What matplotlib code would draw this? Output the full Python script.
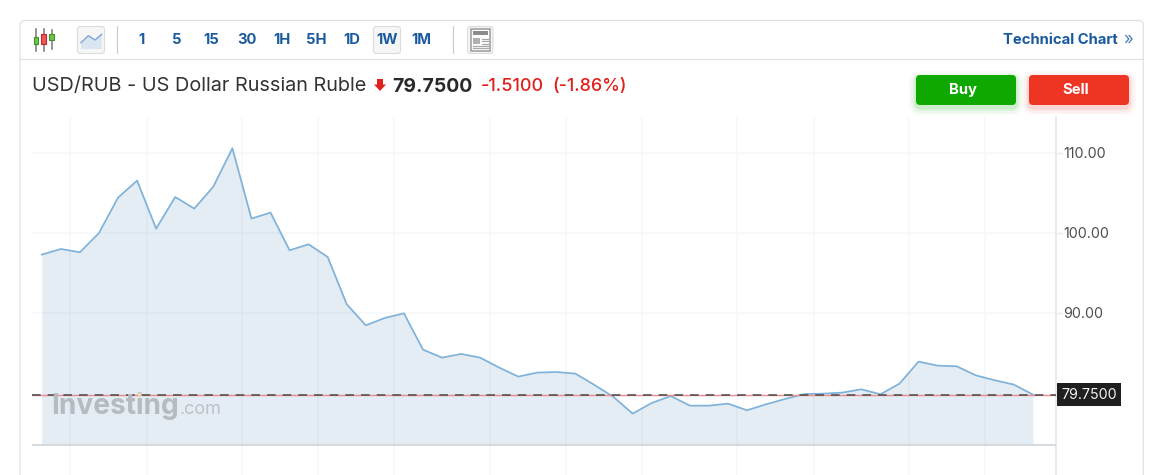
import matplotlib
matplotlib.use('Agg')
import matplotlib.pyplot as plt
from matplotlib.patches import FancyBboxPatch, Rectangle, Polygon

plt.rcParams['font.family'] = ['Inter', 'DejaVu Sans']

# weekly closes
closes = [97.25, 97.95, 97.54, 99.95, 104.37, 106.5, 100.5, 104.45, 103.0, 105.75,
          110.54, 101.75, 102.5, 97.79, 98.54, 96.95, 91.04, 88.41, 89.33, 89.91,
          85.37, 84.37, 84.83, 84.37, 83.12, 82.0, 82.5, 82.57, 82.37, 80.95,
          79.45, 77.37, 78.7, 79.57, 78.37, 78.37, 78.62, 77.79, 78.54, 79.2,
          79.82, 79.87, 80.0, 80.41, 79.79, 81.12, 83.87, 83.37, 83.29, 82.16,
          81.54, 81.0, 79.75]
weeks = list(range(len(closes)))
grid_weeks = [1.5, 5.5, 10.5, 14.5, 18.5, 23.5, 27.5, 31.5, 36.5, 40.5, 45.5, 49.5]
price_ticks = [90, 100, 110]
price_labels = ['90.00', '100.00', '110.00']
last_price = 79.75
baseline = 73.44
intervals = ['1', '5', '15', '30', '1H', '5H', '1D', '1W', '1M']
interval_x = [141.5, 176.5, 211.5, 246.5, 281.5, 316.5, 351.5, 387, 421.5]

W, H = 1168, 475
BLUE = '#1a5a9e'
GRID = '#f7f8f9'
RED = '#e0201b'

fig = plt.figure(figsize=(W / 100, H / 100), dpi=100, facecolor='white')

# page chrome is drawn in pixel coordinates
page = fig.add_axes([0, 0, 1, 1], zorder=1)
page.set_xlim(0, W)
page.set_ylim(H, 0)
page.axis('off')


def box(x0, y0, x1, y1, fc, ec='none', r=3, lw=1, z=2, alpha=None):
    p = FancyBboxPatch((x0 + r, y0 + r), x1 - x0 - 2 * r, y1 - y0 - 2 * r,
                       boxstyle='round,pad=%g,rounding_size=%g' % (r, r),
                       fc=fc, ec=ec, lw=lw, zorder=z, alpha=alpha)
    page.add_patch(p)


# card and toolbar
box(20, 20.5, 1143.3, 520, 'none', ec='#dddee0', r=5, lw=0.8)
page.plot([20, 1143.3], [59.3, 59.3], color='#dedfe1', lw=0.8)
page.plot([117.2, 117.2], [26, 53], color='#c8c9cb', lw=0.8)
page.plot([453.2, 453.2], [26, 53], color='#c8c9cb', lw=0.8)

# candle icon
for wx, top, bot, b0, b1, col, edge in [(36, 29, 51, 37, 44, '#6fc34f', '#3f8f2a'),
                                        (43.5, 29, 51, 34, 44, '#f0555a', '#b92a2e'),
                                        (51.5, 30, 49, 34, 40, '#6fc34f', '#3f8f2a')]:
    page.plot([wx, wx], [top, bot], color='#777777', lw=1.1, zorder=2)
    page.add_patch(Rectangle((wx - 2.2, b0), 4.4, b1 - b0, fc=col, ec=edge, lw=0.8, zorder=3))

# area icon
box(77.5, 26.5, 104.5, 53.5, '#f6f6f7', ec='#dcdcde', r=3, lw=0.8)
page.add_patch(Polygon([(81, 42.7), (88.3, 35.7), (95, 40), (101.7, 34.3), (101.7, 49), (81, 49)],
                       fc='#dbe5f2', ec='none', zorder=3))
page.plot([81, 88.3, 95, 101.7], [42.7, 35.7, 40, 34.3], color='#7fa6d6', lw=1, zorder=4)

# active interval button
box(373.5, 26.5, 400.5, 53.5, '#f6f6f7', ec='#dcdcde', r=3, lw=0.8)
for lab, x in zip(intervals, interval_x):
    page.text(x, 40, lab, color=BLUE, fontsize=10.6, fontweight='bold', ha='center', va='center', zorder=5)

# news icon
box(467.5, 26.5, 493, 53.5, '#f6f6f7', ec='#dcdcde', r=3, lw=0.8)
page.add_patch(Rectangle((470.7, 29.3), 19.5, 21.4, fc='white', ec='#9a9a9a', lw=1.1, zorder=3))
page.add_patch(Rectangle((472.7, 31), 15.5, 4, fc='#8c8c8c', zorder=4))
page.add_patch(Rectangle((472.7, 37.7), 7.3, 6.5, fc='#b0b0b0', zorder=4))
for ly in [38.5, 41, 43.5]:
    page.plot([481.5, 488.2], [ly, ly], color='#a8a8a8', lw=0.9, zorder=4)
for ly in [46, 48.3]:
    page.plot([472.7, 488.2], [ly, ly], color='#a8a8a8', lw=0.9, zorder=4)

page.text(1117.5, 40, 'Technical Chart', color=BLUE, fontsize=10.7, fontweight='bold', ha='right', va='center')
page.text(1128.5, 39.5, '»', color='#4d7fb8', fontsize=12, ha='center', va='center')

# heading
page.text(32.5, 91, 'USD/RUB - US Dollar Russian Ruble', color='#333333', fontsize=14.3, va='baseline')
page.add_patch(Polygon([(377, 79), (383, 79), (383, 84.5), (386, 84.5), (380, 91), (374, 84.5), (377, 84.5)],
                       fc=RED, ec='none', zorder=3))
page.text(392, 91.5, '79.7500', color='#2a2a2a', fontsize=14, fontweight='bold', va='baseline')
page.text(481, 91, '-1.5100', color=RED, fontsize=13, fontweight='medium', va='baseline')
page.text(552, 91, '(-1.86%)', color=RED, fontsize=12.9, fontweight='medium', va='baseline')

# buy / sell with a soft glow under them
for x0, x1, col, lab in [(916, 1016, '#0ea800', 'Buy'), (1029, 1129, '#ee3524', 'Sell')]:
    for grow, a in [(7, 0.03), (5, 0.04), (3, 0.06), (1.5, 0.08)]:
        box(x0 - grow, 75 - grow + 3, x1 + grow, 105 + grow + 3, col, r=5 + grow, alpha=a, z=2)
    box(x0, 75, x1, 105, col, r=4, z=3)
    page.text((x0 + x1) / 2 - 3, 90, lab, color='white', fontsize=10.7, fontweight='bold',
              ha='center', va='center', zorder=4)

# price chart, axes placed on the reference's plot frame
ax_left, ax_right, ax_top, ax_bottom = 32, 1056, 117, 475
ax = fig.add_axes([ax_left / W, 1 - ax_bottom / H, (ax_right - ax_left) / W, (ax_bottom - ax_top) / H],
                  zorder=2)
ax.patch.set_alpha(0)
ax.set_xlim((ax_left - 41.8) / 19.06, (ax_right - 41.8) / 19.06)
ax.set_ylim(110 - (ax_bottom - 152.6) / 8, 110 + (152.6 - ax_top) / 8)

ax.set_xticks(grid_weeks)
ax.set_yticks(price_ticks)
ax.set_yticklabels(price_labels)
ax.yaxis.tick_right()
ax.grid(True, color=GRID, lw=1.1)
ax.set_axisbelow(True)
ax.tick_params(axis='x', length=0, labelbottom=False)
ax.tick_params(axis='y', length=4, width=1, color='#e6e8ec', labelcolor='#4d4d4d', labelsize=10.3, pad=1)
for name in ['top', 'left', 'bottom']:
    ax.spines[name].set_visible(False)
ax.spines['right'].set_color('#e6e8ee')
ax.spines['right'].set_linewidth(1.2)

ax.fill_between(weeks, closes, baseline, color='#4b80b6', alpha=0.15, lw=0, zorder=2)
ax.plot(weeks, closes, color='#7fb2da', lw=1.25, zorder=3)
ax.axhline(baseline, color='#d5dadf', lw=1.4, zorder=3)
ax.axhline(last_price, color='#f08a8a', lw=1, zorder=4)
ax.axhline(last_price, color='#555555', lw=1.2, dashes=(5.2, 4.2), zorder=5)

# last price tag
ax.annotate('%.4f' % last_price, xy=(1, last_price), xycoords=('axes fraction', 'data'),
            xytext=(33, 0), textcoords='offset pixels', color='#f2f2f2', fontsize=10.3,
            ha='center', va='center', annotation_clip=False, zorder=7,
            bbox=dict(boxstyle='square,pad=0.29', fc='#1f1f1f', ec='none'))

# watermark
ax.text(51, 405.5, 'Investing', transform=page.transData, color='#b5bbc0', fontsize=20.2, fontweight='bold',
        va='center', zorder=6)
ax.text(180, 409, '.com', transform=page.transData, color='#bcc2c7', fontsize=13, va='center', zorder=6)
ax.plot([139], [394], 'o', ms=2.5, color='#f3d9a8', mec='none', transform=page.transData, zorder=6)

plt.savefig('out.png', dpi=100)
